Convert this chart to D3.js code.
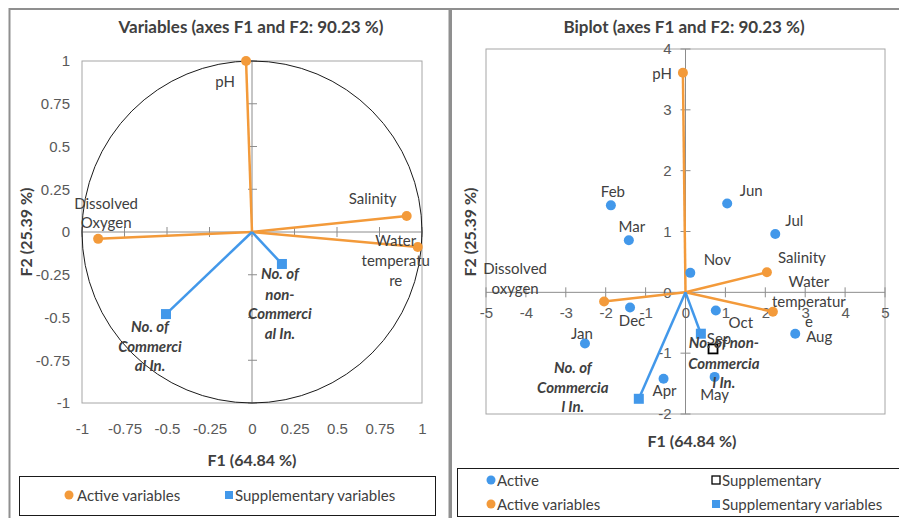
<!DOCTYPE html>
<html>
<head>
<meta charset="utf-8">
<script src="https://cdn.jsdelivr.net/npm/d3@7"></script>
<style>
  html, body { margin: 0; padding: 0; background: #fff; }
  svg { display: block; font-family: Lato, "Open Sans", sans-serif; }
</style>
</head>
<body>
<svg id="chart" width="899" height="518"></svg>
<script>
// ---- Correlation circle (variables) ----
const varNames = ["pH", "Salinity", "Water temperature", "Dissolved Oxygen"];
const varF1 = [-0.035, 0.91, 0.975, -0.905];
const varF2 = [1.0, 0.094, -0.088, -0.04];
const suppVarNames = ["No. of non-Commercial In.", "No. of Commercial In."];
const suppVarF1 = [0.176, -0.506];
const suppVarF2 = [-0.187, -0.48];
const circleTicks = [-1, -0.75, -0.5, -0.25, 0, 0.25, 0.5, 0.75, 1];

// ---- Biplot ----
const months = ["Jan", "Feb", "Mar", "Apr", "May", "Jun", "Jul", "Aug", "Oct", "Nov", "Dec"];
const monthF1 = [-2.52, -1.87, -1.42, -0.55, 0.73, 1.045, 2.25, 2.75, 0.76, 0.12, -1.39];
const monthF2 = [-0.84, 1.43, 0.855, -1.42, -1.39, 1.46, 0.96, -0.68, -0.30, 0.32, -0.25];
const suppMonths = ["Sep"];
const suppMonthF1 = [0.69];
const suppMonthF2 = [-0.93];
const biVarNames = ["pH", "Salinity", "Water temperature", "Dissolved oxygen"];
const biVarF1 = [-0.065, 2.04, 2.19, -2.04];
const biVarF2 = [3.61, 0.33, -0.32, -0.15];
const biSuppF1 = [0.385, -1.17];
const biSuppF2 = [-0.68, -1.75];
const biXTicks = [-5, -4, -3, -2, -1, 0, 1, 2, 3, 4, 5];
const biYTicks = [-2, -1, 0, 1, 2, 3, 4];

const titles = ["Variables (axes F1 and F2: 90.23 %)", "Biplot (axes F1 and F2: 90.23 %)"];
const xTitle = "F1 (64.84 %)";
const yTitle = "F2 (25.39 %)";

// ---- styling ----
const ORANGE = "#F39A3A";
const BLUE = "#4298EA";
const TEXT = "#404040";
const TICK_TEXT = "#595959";
const AXIS = "#8C8C8C";
const FS = 15;          // labels, ticks, legend
const FS_TITLE = 17;
const FS_AXIS = 16;

const svg = d3.select("#chart");

// panel frames
svg.append("rect").attr("x", 9.5).attr("y", 9).attr("width", 440).attr("height", 520)
  .attr("fill", "none").attr("stroke", "#8F8F8F").attr("stroke-width", 2);
svg.append("rect").attr("x", 451).attr("y", 9).attr("width", 460).attr("height", 520)
  .attr("fill", "none").attr("stroke", "#8F8F8F").attr("stroke-width", 2);

// multi-line label helper: lines are centred on (x, y + offsets)
function multiLabel(g, x, y, lines, dys, opts) {
  const t = g.append("text")
    .attr("text-anchor", opts.anchor || "middle")
    .attr("dominant-baseline", "central")
    .attr("font-size", opts.size || FS)
    .attr("fill", opts.fill || TEXT)
    .attr("font-weight", opts.weight || "normal")
    .attr("font-style", opts.style || "normal");
  lines.forEach((ln, i) => {
    t.append("tspan").attr("x", x).attr("y", y + dys[i]).text(ln);
  });
}

function legendText(g, x, y, txt) {
  g.append("text").attr("x", x).attr("y", y).attr("dominant-baseline", "central")
    .attr("font-size", FS).attr("fill", TEXT).text(txt);
}

// ================= Left panel: correlation circle =================
{
  const g = svg.append("g");
  const x = d3.scaleLinear().domain([-1, 1]).range([82, 422]);
  const y = d3.scaleLinear().domain([-1, 1]).range([403, 61]);

  g.append("text").attr("x", 251).attr("y", 26).attr("text-anchor", "middle")
    .attr("dominant-baseline", "central").attr("font-weight", "bold")
    .attr("font-size", FS_TITLE).attr("fill", TEXT).text(titles[0]);

  // plot area border
  g.append("rect").attr("x", x(-1)).attr("y", y(1))
    .attr("width", x(1) - x(-1)).attr("height", y(-1) - y(1))
    .attr("fill", "none").attr("stroke", "#A6A6A6");

  // zero axes with cross ticks
  g.append("line").attr("x1", x(-1)).attr("x2", x(1)).attr("y1", y(0)).attr("y2", y(0)).attr("stroke", AXIS);
  g.append("line").attr("x1", x(0)).attr("x2", x(0)).attr("y1", y(-1)).attr("y2", y(1)).attr("stroke", AXIS);
  g.selectAll(".xt").data(circleTicks).join("line")
    .attr("x1", d => x(d)).attr("x2", d => x(d)).attr("y1", y(0) - 5).attr("y2", y(0) + 5).attr("stroke", AXIS);
  g.selectAll(".yt").data(circleTicks).join("line")
    .attr("x1", x(0) - 4).attr("x2", x(0) + 5).attr("y1", d => y(d)).attr("y2", d => y(d)).attr("stroke", AXIS);

  // tick labels at the plot edges
  const ax = g.append("g").attr("transform", `translate(0,${y(-1)})`)
    .call(d3.axisBottom(x).tickValues(circleTicks).tickFormat(d => String(d)).tickSize(0).tickPadding(20));
  const ay = g.append("g").attr("transform", `translate(${x(-1)},0)`)
    .call(d3.axisLeft(y).tickValues(circleTicks).tickFormat(d => String(d)).tickSize(0).tickPadding(12));
  [ax, ay].forEach(a => {
    a.select(".domain").remove();
    a.selectAll("text").attr("font-size", FS).attr("fill", TICK_TEXT).attr("font-family", null);
  });

  // unit circle
  g.append("ellipse").attr("cx", x(0)).attr("cy", y(0))
    .attr("rx", x(1) - x(0)).attr("ry", y(0) - y(1))
    .attr("fill", "none").attr("stroke", "#1a1a1a").attr("stroke-width", 1);

  // axis titles
  g.append("text").attr("x", 252).attr("y", 459).attr("text-anchor", "middle")
    .attr("dominant-baseline", "central").attr("font-weight", "bold").attr("font-size", FS_AXIS)
    .attr("fill", TEXT).text(xTitle);
  g.append("text").attr("transform", "translate(25,232) rotate(-90)").attr("text-anchor", "middle")
    .attr("dominant-baseline", "central").attr("font-weight", "bold").attr("font-size", FS_AXIS)
    .attr("fill", TEXT).text(yTitle);

  // vectors
  varF1.forEach((v, i) => {
    g.append("line").attr("x1", x(0)).attr("y1", y(0)).attr("x2", x(v)).attr("y2", y(varF2[i]))
      .attr("stroke", ORANGE).attr("stroke-width", 2.5);
  });
  suppVarF1.forEach((v, i) => {
    g.append("line").attr("x1", x(0)).attr("y1", y(0)).attr("x2", x(v)).attr("y2", y(suppVarF2[i]))
      .attr("stroke", BLUE).attr("stroke-width", 2.5);
  });
  varF1.forEach((v, i) => {
    g.append("circle").attr("cx", x(v)).attr("cy", y(varF2[i])).attr("r", 5).attr("fill", ORANGE);
  });
  suppVarF1.forEach((v, i) => {
    g.append("rect").attr("x", x(v) - 5).attr("y", y(suppVarF2[i]) - 5)
      .attr("width", 10).attr("height", 10).attr("fill", BLUE);
  });

  // labels
  const px = i => x(varF1[i]), py = i => y(varF2[i]);
  multiLabel(g, px(0) - 21, py(0), ["pH"], [20], {});
  multiLabel(g, px(1) - 34, py(1), ["Salinity"], [-18], {});
  multiLabel(g, px(2) - 22, py(2), ["Water", "temperatu", "re"], [-7, 13, 33], {});
  multiLabel(g, px(3) + 8, py(3), ["Dissolved", "Oxygen"], [-36, -17], {});
  const sx = i => x(suppVarF1[i]), sy = i => y(suppVarF2[i]);
  multiLabel(g, sx(0) - 2, sy(0), ["No. of", "non-", "Commerci", "al In."], [9, 30, 49, 69],
    { weight: "bold", style: "italic" });
  multiLabel(g, sx(1) - 16, sy(1), ["No. of", "Commerci", "al In."], [12, 32, 51],
    { weight: "bold", style: "italic" });

  // legend
  g.append("rect").attr("x", 19.5).attr("y", 476.5).attr("width", 416).attr("height", 39)
    .attr("fill", "none").attr("stroke", "#1a1a1a");
  g.append("circle").attr("cx", 69).attr("cy", 495).attr("r", 4.5).attr("fill", ORANGE);
  legendText(g, 77, 495, "Active variables");
  g.append("rect").attr("x", 225).attr("y", 491).attr("width", 8).attr("height", 8).attr("fill", BLUE);
  legendText(g, 235, 495, "Supplementary variables");
}

// ================= Right panel: biplot =================
{
  const g = svg.append("g");
  const x = d3.scaleLinear().domain([-5, 5]).range([486, 885]);
  const y = d3.scaleLinear().domain([-2, 4]).range([414, 49]);

  g.append("text").attr("x", 684).attr("y", 26).attr("text-anchor", "middle")
    .attr("dominant-baseline", "central").attr("font-weight", "bold")
    .attr("font-size", FS_TITLE).attr("fill", TEXT).text(titles[1]);

  g.append("rect").attr("x", x(-5)).attr("y", y(4))
    .attr("width", x(5) - x(-5)).attr("height", y(-2) - y(4))
    .attr("fill", "none").attr("stroke", "#A6A6A6");

  g.append("line").attr("x1", x(-5)).attr("x2", x(5)).attr("y1", y(0)).attr("y2", y(0)).attr("stroke", AXIS);
  g.append("line").attr("x1", x(0)).attr("x2", x(0)).attr("y1", y(-2)).attr("y2", y(4)).attr("stroke", AXIS);
  g.selectAll(".xt").data(biXTicks).join("line")
    .attr("x1", d => x(d)).attr("x2", d => x(d)).attr("y1", y(0) - 5).attr("y2", y(0) + 5).attr("stroke", AXIS);
  g.selectAll(".yt").data(biYTicks).join("line")
    .attr("x1", x(0) - 5).attr("x2", x(0) + 5).attr("y1", d => y(d)).attr("y2", d => y(d)).attr("stroke", AXIS);

  // tick labels sit next to the zero axes
  const ax = g.append("g").attr("transform", `translate(0,${y(0)})`)
    .call(d3.axisBottom(x).tickValues(biXTicks).tickFormat(d => String(d)).tickSize(0).tickPadding(15));
  const ay = g.append("g").attr("transform", `translate(${x(0)},0)`)
    .call(d3.axisLeft(y).tickValues(biYTicks).tickFormat(d => String(d)).tickSize(0).tickPadding(14));
  [ax, ay].forEach(a => {
    a.select(".domain").remove();
    a.selectAll("text").attr("font-size", FS).attr("fill", TICK_TEXT).attr("font-family", null);
  });

  g.append("text").attr("x", 692).attr("y", 440).attr("text-anchor", "middle")
    .attr("dominant-baseline", "central").attr("font-weight", "bold").attr("font-size", FS_AXIS)
    .attr("fill", TEXT).text(xTitle);
  g.append("text").attr("transform", "translate(469,232) rotate(-90)").attr("text-anchor", "middle")
    .attr("dominant-baseline", "central").attr("font-weight", "bold").attr("font-size", FS_AXIS)
    .attr("fill", TEXT).text(yTitle);

  // variable vectors
  biVarF1.forEach((v, i) => {
    g.append("line").attr("x1", x(0)).attr("y1", y(0)).attr("x2", x(v)).attr("y2", y(biVarF2[i]))
      .attr("stroke", ORANGE).attr("stroke-width", 2.5);
  });
  biSuppF1.forEach((v, i) => {
    g.append("line").attr("x1", x(0)).attr("y1", y(0)).attr("x2", x(v)).attr("y2", y(biSuppF2[i]))
      .attr("stroke", BLUE).attr("stroke-width", 2.5);
  });

  // observations
  g.selectAll(".obs").data(months).join("circle")
    .attr("cx", (d, i) => x(monthF1[i])).attr("cy", (d, i) => y(monthF2[i]))
    .attr("r", 5).attr("fill", BLUE);
  g.selectAll(".sobs").data(suppMonths).join("rect")
    .attr("x", (d, i) => x(suppMonthF1[i]) - 4.5).attr("y", (d, i) => y(suppMonthF2[i]) - 4.5)
    .attr("width", 9).attr("height", 9).attr("fill", "#fff").attr("stroke", "#000").attr("stroke-width", 1.8);

  biVarF1.forEach((v, i) => {
    g.append("circle").attr("cx", x(v)).attr("cy", y(biVarF2[i])).attr("r", 5).attr("fill", ORANGE);
  });
  biSuppF1.forEach((v, i) => {
    g.append("rect").attr("x", x(v) - 5).attr("y", y(biSuppF2[i]) - 5)
      .attr("width", 10).attr("height", 10).attr("fill", BLUE);
  });

  // observation labels
  const monthLabelOffset = {
    Jan: [-3, -10], Feb: [2, -14], Mar: [3, -14], Apr: [1, 11], May: [0, 17], Jun: [24, -14],
    Jul: [19, -14], Aug: [24, 2], Oct: [25, 11], Nov: [27, -14], Dec: [2, 12]
  };
  months.forEach((m, i) => {
    const o = monthLabelOffset[m];
    multiLabel(g, x(monthF1[i]) + o[0], y(monthF2[i]), [m], [o[1]], {});
  });
  multiLabel(g, x(suppMonthF1[0]) + 6, y(suppMonthF2[0]), [suppMonths[0]], [-11], {});

  // variable labels
  const vx = i => x(biVarF1[i]), vy = i => y(biVarF2[i]);
  multiLabel(g, vx(0) - 11, vy(0), ["pH"], [0], { anchor: "end" });
  multiLabel(g, vx(1) + 35, vy(1), ["Salinity"], [-15], {});
  multiLabel(g, vx(2) + 36, vy(2), ["Water", "temperatur", "e"], [-31, -11, 9], {});
  multiLabel(g, vx(3) - 89, vy(3), ["Dissolved", "oxygen"], [-33, -13], {});
  const bx = i => x(biSuppF1[i]), by = i => y(biSuppF2[i]);
  multiLabel(g, bx(0) + 23, by(0), ["No. of non-", "Commercia", "l In."], [8, 29, 48],
    { weight: "bold", style: "italic" });
  multiLabel(g, bx(1) - 66, by(1), ["No. of", "Commercia", "l In."], [-32, -12, 7],
    { weight: "bold", style: "italic" });

  // legend
  g.append("rect").attr("x", 457.5).attr("y", 468.5).attr("width", 460).attr("height", 48)
    .attr("fill", "none").attr("stroke", "#1a1a1a");
  g.append("circle").attr("cx", 491).attr("cy", 480).attr("r", 4.5).attr("fill", BLUE);
  legendText(g, 497, 480, "Active");
  g.append("rect").attr("x", 712).attr("y", 476).attr("width", 8).attr("height", 8)
    .attr("fill", "#fff").attr("stroke", "#000").attr("stroke-width", 1.3);
  legendText(g, 722, 480, "Supplementary");
  g.append("circle").attr("cx", 491).attr("cy", 504).attr("r", 4.5).attr("fill", ORANGE);
  legendText(g, 497, 504, "Active variables");
  g.append("rect").attr("x", 712).attr("y", 500).attr("width", 8).attr("height", 8).attr("fill", BLUE);
  legendText(g, 722, 504, "Supplementary variables");
}
</script>
</body>
</html>
